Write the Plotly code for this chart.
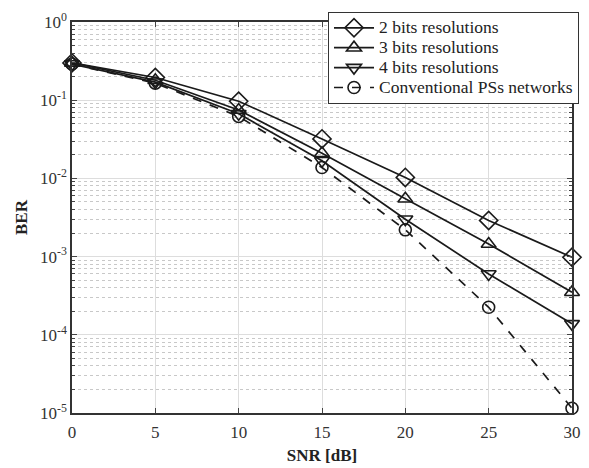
import plotly.graph_objects as go

snr = [0, 5, 10, 15, 20, 25, 30]
ber_2bit = [0.30, 0.195, 0.097, 0.032, 0.0103, 0.0029, 0.00098]
ber_3bit = [0.30, 0.18, 0.075, 0.021, 0.0055, 0.00145, 0.00035]
ber_4bit = [0.29, 0.17, 0.067, 0.0168, 0.0030, 0.00060, 0.000138]
ber_conv = [0.29, 0.165, 0.062, 0.0138, 0.0022, 0.000225, 0.0000115]

names = ["2 bits resolutions", "3 bits resolutions", "4 bits resolutions", "Conventional PSs networks"]
y_tickvals = [1e-5, 1e-4, 1e-3, 1e-2, 1e-1, 1]
y_ticktext = ["10<sup>-5</sup>", "10<sup>-4</sup>", "10<sup>-3</sup>", "10<sup>-2</sup>", "10<sup>-1</sup>", "10<sup>0</sup>"]
x_tickvals = [0, 5, 10, 15, 20, 25, 30]

series = [
    (ber_2bit, "diamond-open", "solid", 14),
    (ber_3bit, "triangle-up-open", "solid", 13),
    (ber_4bit, "triangle-down-open", "solid", 13),
    (ber_conv, "circle-open", "dash", 12),
]

fig = go.Figure()
for (vals, sym, dash, sz), nm in zip(series, names):
    fig.add_trace(go.Scatter(
        x=snr, y=vals, name='<span style="font-size:17.5px">' + nm + '</span>',
        mode="lines+markers",
        line=dict(color="#1a1a1a", width=1.7, dash=dash),
        marker=dict(symbol=sym, size=sz, color="#1a1a1a", line=dict(width=1.6, color="#1a1a1a")),
        cliponaxis=False,
    ))

font = "Liberation Serif, Times New Roman, serif"
fig.update_layout(
    width=589, height=468,
    margin=dict(l=72, r=10, t=13, b=55),
    paper_bgcolor="white", plot_bgcolor="white",
    font=dict(family=font, size=17, color="#222"),
    showlegend=True,
    legend=dict(
        x=1.014, y=1.026, xanchor="right", yanchor="top",
        bordercolor="#333", borderwidth=1, bgcolor="white",
        font=dict(family=font, size=13, color="#222"),
        tracegroupgap=0, itemwidth=40,
    ),
    xaxis=dict(
        range=[0, 30], tickvals=x_tickvals, ticks="inside", ticklen=5,
        showline=True, linecolor="#333", linewidth=1.5, mirror="ticks",
        showgrid=True, gridcolor="#dddddd", gridwidth=1,
        zeroline=False, ticklabelstandoff=3, automargin=False,
        title=dict(text="<b>SNR [dB]</b>", font=dict(family=font, size=17, color="#222"), standoff=8),
        tickfont=dict(family=font, size=17, color="#333"),
    ),
    yaxis=dict(
        type="log", range=[-5, 0], tickvals=y_tickvals, ticktext=y_ticktext,
        ticks="inside", ticklen=5,
        showline=True, linecolor="#333", linewidth=1.5, mirror="ticks",
        showgrid=True, gridcolor="#dddddd", gridwidth=1,
        minor=dict(showgrid=True, gridcolor="#c8c8c8", griddash="dot", ticks="inside", ticklen=3, dtick="D1"),
        zeroline=False,
        title=dict(text="<b>BER</b>", font=dict(family=font, size=17, color="#222"), standoff=8),
        tickfont=dict(family=font, size=17, color="#333"),
    ),
)

fig.write_html("out.html", config={"displayModeBar": False},
               post_script="document.body.style.margin='0px';")
